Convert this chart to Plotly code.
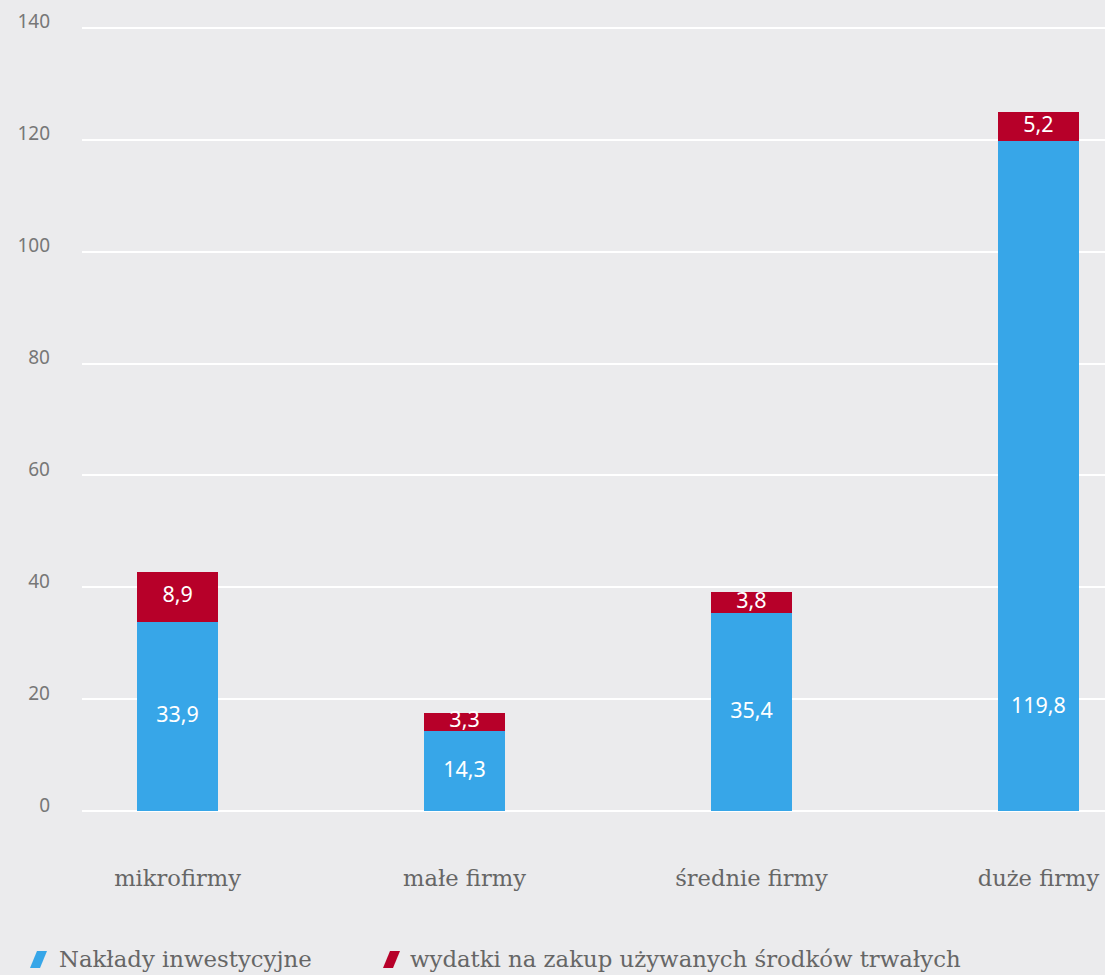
import plotly.graph_objects as go

# Firm size classes and investment figures
categories = ["mikrofirmy", "małe firmy", "średnie firmy", "duże firmy"]
naklady = [33.9, 14.3, 35.4, 119.8]
wydatki = [8.9, 3.3, 3.8, 5.2]
series_names = ["Nakłady inwestycyjne", "wydatki na zakup używanych środków trwałych"]
y_ticks = [0, 20, 40, 60, 80, 100, 120, 140]

BLUE = "#37A6E8"
RED = "#B70029"
BG = "#EBEBED"
SANS = "Noto Sans, DejaVu Sans, sans-serif"
SERIF = "DejaVu Serif, serif"
TEXT_GREY = "#666666"

W, H = 1105, 975
ML, MR, MT, MB = 82, 0, 22, 158


def fmt(v):
    return f"{v:.1f}".replace(".", ",")


fig = go.Figure()
fig.add_trace(go.Bar(x=categories, y=naklady, name=series_names[0],
                     marker=dict(color=BLUE, line=dict(width=0)),
                     width=0.282, hoverinfo="skip"))
fig.add_trace(go.Bar(x=categories, y=wydatki, name=series_names[1],
                     marker=dict(color=RED, line=dict(width=0)),
                     width=0.282, hoverinfo="skip"))

# value labels: lower segment near the foot of the bar, upper segment centred
lower_pos = [min(v / 2, 18.5) for v in naklady]
upper_pos = [a + b / 2 for a, b in zip(naklady, wydatki)]
fig.add_trace(go.Scatter(x=categories, y=lower_pos, mode="text",
                         text=[fmt(v) for v in naklady],
                         textfont=dict(family=SANS, size=21.5, color="white"),
                         cliponaxis=False, showlegend=False, hoverinfo="skip"))
fig.add_trace(go.Scatter(x=categories, y=upper_pos, mode="text",
                         text=[fmt(v) for v in wydatki],
                         textfont=dict(family=SANS, size=21.5, color="white"),
                         cliponaxis=False, showlegend=False, hoverinfo="skip"))

plot_w = W - ML - MR
plot_h = H - MT - MB


def px_x(px):
    return (px - ML) / plot_w


def px_y(py):
    return (H - MB - py) / plot_h


# legend drawn as slanted swatches with text
shapes = []
annotations = []
legend_items = [(30, 57, BLUE, series_names[0]), (383, 408, RED, series_names[1])]
for x0, tx, col, label in legend_items:
    path = (f"M {px_x(x0)},{px_y(968)} L {px_x(x0 + 10)},{px_y(968)} "
            f"L {px_x(x0 + 17)},{px_y(951)} L {px_x(x0 + 7)},{px_y(951)} Z")
    shapes.append(dict(type="path", xref="paper", yref="paper", path=path,
                       fillcolor=col, line=dict(width=0)))
    annotations.append(dict(xref="paper", yref="paper", x=px_x(tx), y=px_y(959),
                            xanchor="left", yanchor="middle", showarrow=False,
                            text=label, font=dict(family=SERIF, size=22.8, color=TEXT_GREY)))

fig.update_layout(
    width=W, height=H,
    margin=dict(l=ML, r=MR, t=MT, b=MB, pad=0),
    paper_bgcolor=BG, plot_bgcolor=BG,
    barmode="stack",
    showlegend=False,
    shapes=shapes,
    annotations=annotations,
    xaxis=dict(range=[-0.333, 3.232], showgrid=False, zeroline=False,
               showline=False, ticks="", ticklabelstandoff=45,
               tickfont=dict(family=SERIF, size=22.6, color=TEXT_GREY)),
    yaxis=dict(range=[-1, 141], tickvals=y_ticks, ticktext=[str(t) for t in y_ticks],
               showgrid=True, gridcolor="white", gridwidth=2,
               zeroline=False, showline=False, ticks="",
               ticklabelstandoff=31, ticklabelshift=-6,
               tickfont=dict(family=SANS, size=19, color="#777777")),
)

fig.write_html("out.html")
